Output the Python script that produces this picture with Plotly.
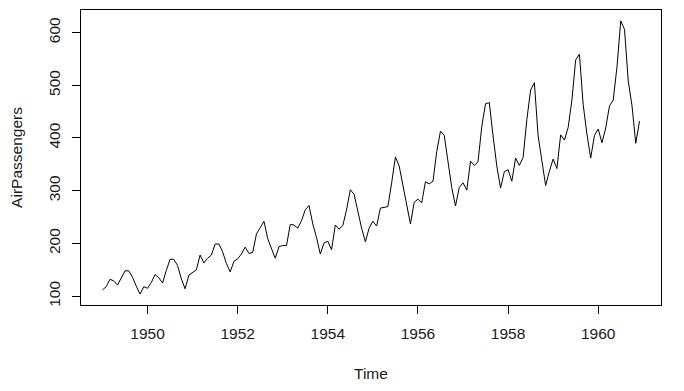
import plotly.graph_objects as go

years = list(range(1949, 1961))
passengers = [
    112, 118, 132, 129, 121, 135, 148, 148, 136, 119, 104, 118,
    115, 126, 141, 135, 125, 149, 170, 170, 158, 133, 114, 140,
    145, 150, 178, 163, 172, 178, 199, 199, 184, 162, 146, 166,
    171, 180, 193, 181, 183, 218, 230, 242, 209, 191, 172, 194,
    196, 196, 236, 235, 229, 243, 264, 272, 237, 211, 180, 201,
    204, 188, 235, 227, 234, 264, 302, 293, 259, 229, 203, 229,
    242, 233, 267, 269, 270, 315, 364, 347, 312, 274, 237, 278,
    284, 277, 317, 313, 318, 374, 413, 405, 355, 306, 271, 306,
    315, 301, 356, 348, 355, 422, 465, 467, 404, 347, 305, 336,
    340, 318, 362, 348, 363, 435, 491, 505, 404, 359, 310, 337,
    360, 342, 406, 396, 420, 472, 548, 559, 463, 407, 362, 405,
    417, 391, 419, 461, 472, 535, 622, 606, 508, 461, 390, 432,
]
time = [years[0] + i / 12 for i in range(len(passengers))]
x_ticks = [1950, 1952, 1954, 1956, 1958, 1960]
y_ticks = [100, 200, 300, 400, 500, 600]

font = dict(family="Liberation Sans, Arial, sans-serif", size=15.5, color="#1a1a1a")

fig = go.Figure(go.Scatter(x=time, y=passengers, mode="lines",
                           line=dict(color="black", width=1)))

xmin, xmax = min(time), max(time)
xpad = (xmax - xmin) * 0.04
ymin, ymax = min(passengers), max(passengers)
ypad = (ymax - ymin) * 0.04

# page body has an 8px default margin; figure is sized to compensate
fig.update_layout(
    width=676, height=383,
    margin=dict(l=73, r=23, t=2, b=86),
    paper_bgcolor="white", plot_bgcolor="white",
    showlegend=False, font=font,
    xaxis=dict(range=[xmin - xpad, xmax + xpad], tickvals=x_ticks,
               ticktext=[str(v) for v in x_ticks],
               showgrid=False, zeroline=False, showline=True, mirror=True,
               linecolor="black", linewidth=1, ticks="outside", ticklen=8,
               tickcolor="black", tickwidth=1, tickfont=font,
               ticklabelstandoff=6),
    yaxis=dict(range=[ymin - ypad, ymax + ypad], tickvals=y_ticks,
               ticktext=[str(v) for v in y_ticks], tickangle=-90,
               showgrid=False, zeroline=False, showline=True, mirror=True,
               linecolor="black", linewidth=1, ticks="outside", ticklen=8,
               tickcolor="black", tickwidth=1, tickfont=font,
               ticklabelstandoff=6),
    annotations=[
        dict(text="Time", xref="paper", yref="paper", x=0.5, y=-0.231,
             showarrow=False, font=font, xanchor="center", yanchor="middle"),
        dict(text="AirPassengers", xref="paper", yref="paper", x=-0.1114, y=0.5,
             showarrow=False, font=font, textangle=-90,
             xanchor="center", yanchor="middle"),
    ],
)

fig.write_html("out.html")
